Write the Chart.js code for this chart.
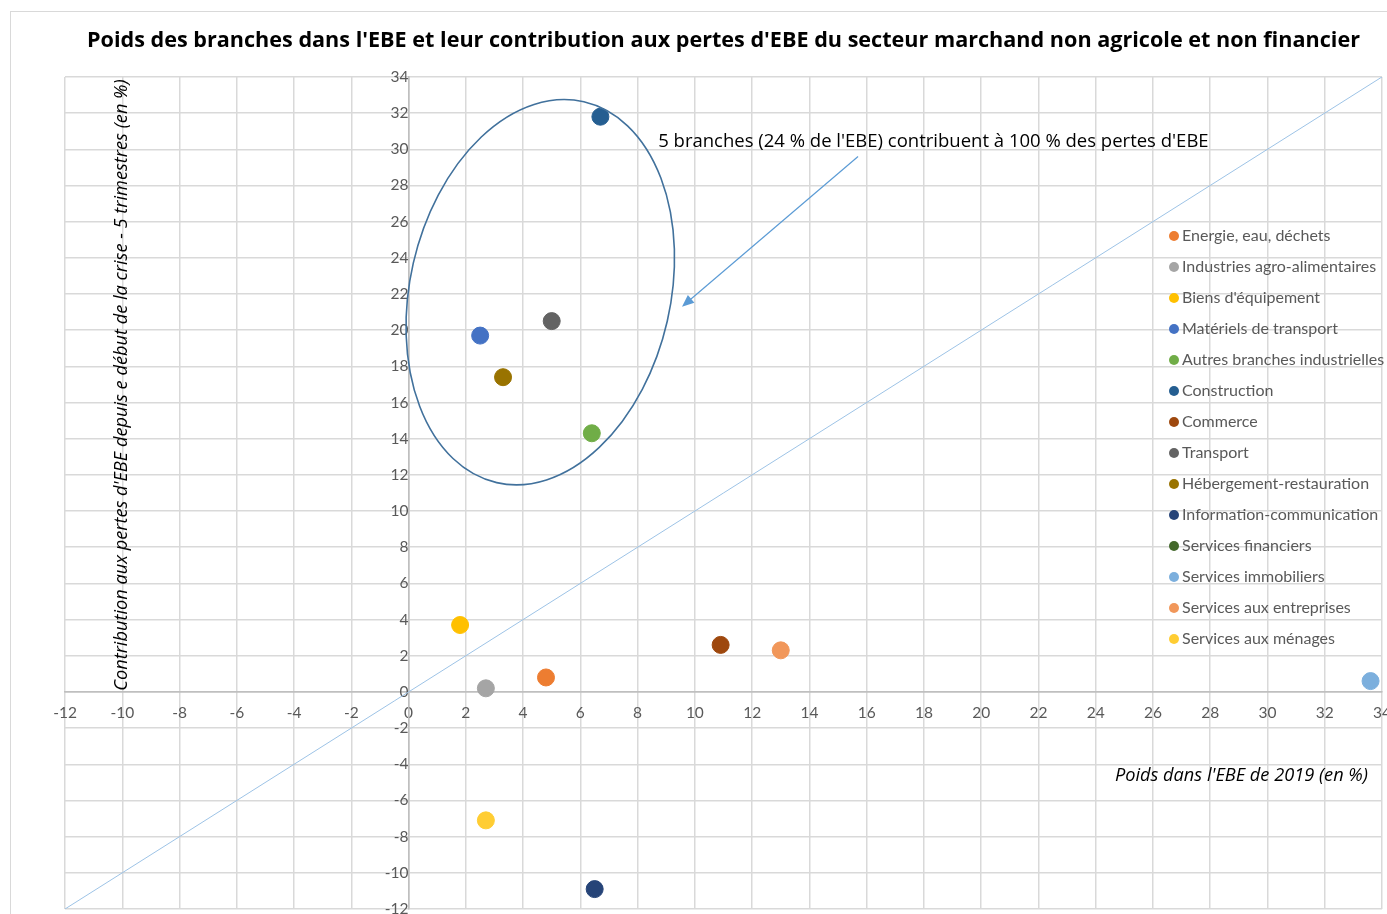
<!DOCTYPE html>
<html>
<head>
<meta charset="utf-8">
<script src="https://cdn.jsdelivr.net/npm/chart.js@4/dist/chart.umd.min.js"></script>
<style>
	html, body { margin: 0; padding: 0; background: #fff; }
	canvas { display: block; }
</style>
</head>
<body>
<canvas id="ebe-graph" width="1387" height="914"></canvas>
<script>
// Poids des branches dans l'EBE 2019 (x) et contribution aux pertes d'EBE (y)
var branches = [
	'Energie, eau, déchets',
	'Industries agro-alimentaires',
	"Biens d'équipement",
	'Matériels de transport',
	'Autres branches industrielles',
	'Construction',
	'Commerce',
	'Transport',
	'Hébergement-restauration',
	'Information-communication',
	'Services financiers',
	'Services immobiliers',
	'Services aux entreprises',
	'Services aux ménages'
];
var poids   = [4.8, 2.7, 1.8, 2.5, 6.4, 6.7, 10.9, 5.0, 3.3, 6.5, null, 33.6, 13.0, 2.7];
var contrib = [0.8, 0.2, 3.7, 19.7, 14.3, 31.8, 2.6, 20.5, 17.4, -10.9, null, 0.6, 2.3, -7.1];
var couleurs = ['#ED7D31', '#A5A5A5', '#FFC000', '#4472C4', '#70AD47', '#255E91', '#9E480E',
	'#636363', '#997300', '#264478', '#43682B', '#7CAFDD', '#F1975A', '#FFCD33'];

// bissectrice y = x
var diagonale = [-12, 34];

// bornes des axes
var axeMin = -12;
var axeMax = 34;
var pas = 2;

var titre = "Poids des branches dans l'EBE et leur contribution aux pertes d'EBE du secteur marchand non agricole et non financier";
var titreX = "Poids dans l'EBE de 2019 (en %)";
var titreY = "Contribution aux pertes d'EBE depuis e début de la crise - 5 trimestres (en %)";
var note = "5 branches (24 % de l'EBE) contribuent à 100 % des pertes d'EBE";

var police = 'Lato, "Open Sans", sans-serif';
var police2 = '"Open Sans", Lato, sans-serif';

function buildDatasets() {
	var sets = [];
	for (var i = 0; i < branches.length; ++i) {
		var pts = [];
		if (poids[i] !== null) {
			pts.push({ x: poids[i], y: contrib[i] });
		}
		sets.push({
			label: branches[i],
			data: pts,
			backgroundColor: couleurs[i],
			borderColor: couleurs[i],
			pointRadius: 8.5,
			pointHoverRadius: 8.5,
			order: 1
		});
	}
	sets.push({
		label: 'diagonale',
		type: 'line',
		data: diagonale.map(function(v) { return { x: v, y: v }; }),
		borderColor: '#9DC3E6',
		borderWidth: 1,
		pointRadius: 0,
		fill: false,
		order: 2
	});
	return sets;
}

// cadre, ellipse, flèche, textes et légende
var decor = {
	id: 'decor',
	beforeDraw: function(chart) {
		var c = chart.ctx;
		c.save();
		c.strokeStyle = '#d9d9d9';
		c.lineWidth = 1;
		c.strokeRect(10.5, 11.5, 1400, 1000);
		c.restore();
	},
	afterDatasetsDraw: function(chart) {
		var c = chart.ctx;
		var sx = chart.scales.x;
		var sy = chart.scales.y;
		c.save();

		// ellipse autour des 5 branches
		var cx = sx.getPixelForValue(4.6);
		var cy = sy.getPixelForValue(22.1);
		var rx = sx.getPixelForValue(4.6 + 4.55) - cx;
		var ry = cy - sy.getPixelForValue(22.1 + 10.8);
		c.beginPath();
		c.ellipse(cx, cy, rx, ry, 0.225, 0, Math.PI * 2);
		c.strokeStyle = '#41719C';
		c.lineWidth = 1.6;
		c.stroke();

		// flèche
		var x1 = sx.getPixelForValue(15.7), y1 = sy.getPixelForValue(29.6);
		var x2 = sx.getPixelForValue(9.55), y2 = sy.getPixelForValue(21.3);
		var ang = Math.atan2(y2 - y1, x2 - x1);
		c.strokeStyle = '#5B9BD5';
		c.fillStyle = '#5B9BD5';
		c.lineWidth = 1.2;
		c.beginPath();
		c.moveTo(x1, y1);
		c.lineTo(x2 - 8 * Math.cos(ang), y2 - 8 * Math.sin(ang));
		c.stroke();
		c.beginPath();
		c.moveTo(x2, y2);
		c.lineTo(x2 - 12 * Math.cos(ang) + 5 * Math.sin(ang), y2 - 12 * Math.sin(ang) - 5 * Math.cos(ang));
		c.lineTo(x2 - 12 * Math.cos(ang) - 5 * Math.sin(ang), y2 - 12 * Math.sin(ang) + 5 * Math.cos(ang));
		c.closePath();
		c.fill();

		// annotation
		c.fillStyle = '#000';
		c.font = '18.5px ' + police2;
		c.textAlign = 'left';
		c.textBaseline = 'middle';
		c.fillText(note, sx.getPixelForValue(8.72), sy.getPixelForValue(30.4));

		// titres des axes
		c.font = 'italic 18.2px ' + police2;
		c.textAlign = 'right';
		c.fillText(titreX, 1368, 776);
		c.translate(122, 385);
		c.rotate(-Math.PI / 2);
		c.textAlign = 'center';
		c.fillText(titreY, 0, 0);
		c.restore();

		// légende
		c.save();
		c.font = '16px ' + police;
		c.textAlign = 'left';
		c.textBaseline = 'middle';
		for (var i = 0; i < branches.length; ++i) {
			var ly = 236 + i * 31;
			c.beginPath();
			c.arc(1174, ly, 5, 0, Math.PI * 2);
			c.fillStyle = couleurs[i];
			c.fill();
			c.fillStyle = '#595959';
			c.fillText(branches[i], 1182, ly);
		}
		c.restore();
	}
};

function gridColor(ctx) {
	return ctx.tick && ctx.tick.value === 0 ? '#bfbfbf' : '#d9d9d9';
}

// le dernier libellé peut déborder du cadre, comme dans l'original
function noPad(scale) {
	scale.paddingRight = 0;
	scale.paddingBottom = 0;
}

var ctx = document.getElementById('ebe-graph').getContext('2d');

var myChart = new Chart(ctx, {
	type: 'scatter',
	data: { datasets: buildDatasets() },
	options: {
		responsive: false,
		animation: false,
		layout: {
			autoPadding: false,
			padding: { top: 10, left: 65, right: 5, bottom: 5 }
		},
		plugins: {
			legend: { display: false },
			tooltip: { enabled: false },
			title: {
				display: true,
				text: titre,
				color: '#000',
				font: { family: police2, size: 21.6, weight: 'bold' },
				padding: { top: 17.5, bottom: 23.5 }
			}
		},
		scales: {
			x: {
				type: 'linear',
				position: { y: 0 },
				min: axeMin,
				max: axeMax,
				afterFit: noPad,
				border: { display: true, color: '#bfbfbf', width: 1.5 },
				grid: { color: gridColor, lineWidth: 1.5, drawTicks: false },
				ticks: {
					stepSize: pas,
					padding: 12,
					color: '#595959',
					font: { family: police, size: 15.5 }
				}
			},
			y: {
				type: 'linear',
				position: { x: 0 },
				min: axeMin,
				max: axeMax,
				afterFit: noPad,
				border: { display: true, color: '#bfbfbf', width: 1.5 },
				grid: { color: gridColor, lineWidth: 1.5, drawTicks: false },
				ticks: {
					stepSize: pas,
					padding: 12,
					color: '#595959',
					font: { family: police, size: 15.5 }
				}
			}
		}
	},
	plugins: [decor]
});
</script>
</body>
</html>
